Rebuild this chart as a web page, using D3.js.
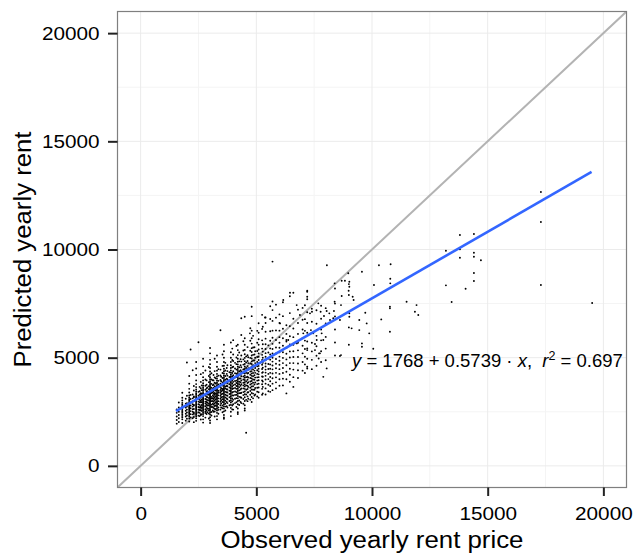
<!DOCTYPE html>
<html>
<head>
<meta charset="utf-8">
<script src="https://cdn.jsdelivr.net/npm/d3@7"></script>
<style>
  body { margin: 0; background: #fff; }
  svg { display: block; font-family: "Liberation Sans", Arial, Helvetica, sans-serif; }
  .ann { white-space: pre; }
</style>
</head>
<body>
<div id="chart"></div>
<script>

// axis setup (both axes share limits)
var axisDomain = [-1000, 21000];
var majorTicks = [0, 5000, 10000, 15000, 20000];
var minorTicks = [2500, 7500, 12500, 17500];

// fitted (blue) line
var fitIntercept = 1588;
var fitSlope = 0.6155;
var fitRange = [1530, 19490];

// printed equation
var eqIntercept = 1768;
var eqSlope = 0.5739;
var eqR2 = 0.697;

// dense cloud: observed rent values (columns) and the predicted values at each
var colObs = [1560, 1650, 1800, 1950, 2000, 2100, 2160, 2250, 2300, 2400, 2500, 2550, 2600, 2640, 2700,
  2800, 2850, 2880, 2950, 3000, 3060, 3120, 3150, 3200, 3240, 3300, 3360, 3450, 3480, 3540, 3600, 3660,
  3720, 3750, 3840, 3900, 3960, 4000, 4080, 4140, 4200, 4260, 4320, 4350, 4440, 4500, 4560, 4620, 4650,
  4740, 4800, 4860, 4920, 4950, 5040, 5100, 5250, 5280, 5400, 5520, 5600, 5700, 5850, 6000, 6150, 6300,
  6450, 6600, 6800, 7000, 7100, 7200, 7400, 7600, 7800, 8000, 8400, 9000];

var colPred = [
  [1950, 2120, 2280, 2450, 2610],
  [2030, 2200, 2350, 2500, 2700, 2930],
  [1980, 2150, 2240, 2310, 2390, 2460, 2520, 2580, 2650, 2700, 2760, 2830, 2910, 3020, 3150, 3380],
  [2090, 2280, 2410, 2550, 2690, 2870, 3100],
  [2180, 2330, 2470, 2600, 2740, 2900, 3240, 4780],
  [2050, 2190, 2280, 2350, 2420, 2480, 2540, 2600, 2660, 2710, 2770, 2820, 2880, 2940, 3010, 3080, 3160, 3250, 3390, 3560, 3800, 4150],
  [2240, 2390, 2530, 2660, 2790, 2930, 3090, 3280, 5380],
  [2200, 2380, 2500, 2620, 2740, 2850, 2980, 3120, 3300, 4420],
  [2020, 2260, 2410, 2470, 2630, 2790, 2820, 2990, 3170, 3210, 3480, 3690],
  [2080, 2200, 2290, 2360, 2430, 2490, 2550, 2600, 2650, 2700, 2750, 2800, 2850, 2900, 2950, 3000, 3050, 3100, 3160, 3220, 3290, 3360, 3440, 3530, 3640, 3780, 3950, 4200, 4500, 4800],
  [2320, 2470, 2600, 2720, 2850, 2970, 3100, 3240, 3420, 5710],
  [2300, 2450, 2580, 2700, 2820, 2940, 3050, 3170, 3300, 3450, 3650],
  [2140, 2350, 2390, 2570, 2690, 2760, 2940, 3010, 3150, 3270, 3360, 3590, 3880, 4240],
  [2380, 2540, 2680, 2810, 2940, 3060, 3190, 3330, 3500, 3720],
  [2000, 2150, 2300, 2400, 2480, 2550, 2610, 2670, 2720, 2780, 2830, 2880, 2930, 2980, 3030, 3080, 3130, 3180, 3230, 3290, 3350, 3410, 3480, 3550, 3630, 3720, 3820, 3950, 4100, 4300, 4600, 4950],
  [2230, 2440, 2510, 2620, 2760, 2890, 2970, 3090, 3240, 3310, 3520, 3700, 3990, 4410],
  [2400, 2560, 2700, 2830, 2950, 3070, 3190, 3310, 3440, 3580, 3750, 3950],
  [2480, 2640, 2790, 2920, 3040, 3170, 3300, 3450, 3620],
  [2190, 2420, 2560, 2640, 2790, 2870, 3030, 3140, 3290, 3390, 3540, 3680, 3870, 4150, 4570],
  [1980, 2100, 2250, 2370, 2460, 2540, 2610, 2680, 2740, 2800, 2860, 2910, 2960, 3010, 3060, 3110, 3160, 3210, 3260, 3310, 3360, 3410, 3460, 3510, 3570, 3630, 3690, 3760, 3830, 3910, 4000, 4100, 4220, 4360, 4520, 4700, 4900, 5200, 5450],
  [2330, 2490, 2720, 2830, 2990, 3120, 3190, 3370, 3490, 3610, 3790, 3990, 4280],
  [2560, 2720, 2870, 3000, 3130, 3260, 3400, 3550, 3730, 3960],
  [2500, 2680, 2830, 2960, 3090, 3210, 3330, 3460, 3600, 3760, 3950, 4200],
  [2280, 2510, 2640, 2770, 2880, 3020, 3150, 3290, 3370, 3520, 3680, 3840, 4090, 4380, 4950],
  [2620, 2790, 2940, 3080, 3210, 3340, 3480, 3630, 3810, 4050],
  [2150, 2300, 2450, 2560, 2650, 2730, 2800, 2870, 2930, 2990, 3050, 3110, 3170, 3230, 3290, 3350, 3410, 3470, 3530, 3590, 3650, 3720, 3790, 3860, 3940, 4030, 4130, 4250, 4400, 4580, 4800, 5100],
  [2410, 2590, 2700, 2860, 2990, 3120, 3260, 3390, 3470, 3630, 3760, 3930, 4170, 4470],
  [2600, 2800, 2960, 3100, 3240, 3380, 3510, 3650, 3800, 3970, 4180, 4450, 6270],
  [2700, 2880, 3030, 3170, 3310, 3450, 3590, 3740, 3910, 4120],
  [2480, 2660, 2790, 2950, 3080, 3190, 3330, 3480, 3550, 3710, 3860, 4060, 4290, 4620, 5150],
  [2180, 2240, 2350, 2520, 2650, 2750, 2840, 2920, 3000, 3070, 3140, 3210, 3280, 3340, 3400, 3460, 3520, 3580, 3640, 3700, 3760, 3820, 3880, 3950, 4020, 4100, 4180, 4270, 4370, 4490, 4630, 4800, 5000, 5300, 5600],
  [2560, 2740, 2870, 3010, 3160, 3290, 3420, 3570, 3660, 3820, 3980, 4150, 4410, 4760],
  [2760, 2950, 3110, 3260, 3400, 3540, 3690, 3850, 4030, 4250, 4520],
  [2700, 2900, 3080, 3240, 3390, 3530, 3680, 3830, 3990, 4170, 4380, 4650],
  [2800, 3000, 3170, 3320, 3470, 3620, 3770, 3930, 4110, 4330],
  [2300, 2500, 2680, 2820, 2930, 3030, 3120, 3200, 3280, 3360, 3430, 3500, 3570, 3640, 3710, 3780, 3850, 3920, 3990, 4060, 4140, 4220, 4310, 4410, 4520, 4650, 4800, 5000, 5250, 5700],
  [2610, 2790, 2980, 3110, 3260, 3390, 3550, 3660, 3810, 3960, 4130, 4290, 4560, 4890, 5420],
  [2600, 2850, 3050, 3250, 3420, 3580, 3730, 3880, 4030, 4190, 4370, 4580, 4850, 5150, 5810],
  [2900, 3100, 3280, 3440, 3600, 3760, 3920, 4090, 4280, 4500, 4760],
  [2720, 2940, 3130, 3290, 3410, 3560, 3690, 3830, 3940, 4110, 4260, 4450, 4700, 5010, 5540],
  [2400, 2480, 2650, 2850, 3000, 3120, 3230, 3330, 3420, 3500, 3580, 3660, 3740, 3820, 3900, 3980, 4060, 4140, 4220, 4300, 4390, 4480, 4580, 4690, 4810, 4950, 5120, 5350, 5600],
  [2810, 3020, 3190, 3360, 3490, 3640, 3770, 3890, 4040, 4190, 4370, 4560, 4830, 5240],
  [2950, 3170, 3360, 3530, 3700, 3870, 4040, 4220, 4420, 4650, 4930],
  [2900, 3150, 3380, 3580, 3770, 3950, 4140, 4340, 4560, 4820, 5100, 6050, 6820],
  [2870, 3090, 3270, 3410, 3580, 3720, 3840, 3990, 4130, 4290, 4460, 4680, 4920, 5330, 5760],
  [2560, 2650, 2800, 3000, 3170, 3310, 3440, 3560, 3670, 3770, 3870, 3970, 4070, 4170, 4270, 4370, 4480, 4590, 4710, 4840, 4990, 5160, 5360, 5600, 5900, 6890],
  [1530, 3050, 3300, 3520, 3720, 3910, 4100, 4300, 4520, 4780, 5060],
  [2990, 3210, 3390, 3550, 3700, 3830, 3980, 4120, 4270, 4430, 4610, 4850, 5110, 5490],
  [3100, 3400, 3650, 3870, 4080, 4290, 4510, 4750, 5020],
  [3060, 3290, 3460, 3610, 3760, 3900, 4060, 4210, 4360, 4540, 4730, 4990, 5320, 5780, 6360],
  [2950, 3180, 3370, 3530, 3670, 3800, 3920, 4040, 4160, 4270, 4380, 4490, 4600, 4710, 4830, 4960, 5100, 5260, 5440, 5650, 5900, 6250, 6920, 7355],
  [3120, 3340, 3520, 3680, 3840, 3990, 4140, 4290, 4460, 4650, 4870, 5130, 5470, 6010],
  [3250, 3520, 3760, 3980, 4190, 4400, 4620, 4870, 5150, 5480],
  [3300, 3600, 3850, 4080, 4300, 4520, 4750, 5000, 5300],
  [3210, 3430, 3610, 3780, 3940, 4090, 4250, 4420, 4600, 4800, 5030, 5310, 5690, 6240],
  [3150, 3400, 3620, 3800, 3960, 4100, 4230, 4360, 4490, 4620, 4750, 4890, 5040, 5200, 5380, 5600, 5850, 6150, 6590],
  [3290, 3560, 3770, 3950, 4130, 4300, 4480, 4670, 4890, 5130, 5420, 5800, 6330, 6980],
  [3350, 3650, 3900, 4120, 4330, 4540, 4760, 5000, 5280, 5620, 6430],
  [3300, 3580, 3800, 3990, 4160, 4310, 4450, 4590, 4730, 4880, 5040, 5210, 5400, 5620, 5880, 6200, 6600, 6860],
  [3450, 3750, 4010, 4250, 4480, 4710, 4960, 5240, 5570],
  [3420, 3690, 3910, 4110, 4300, 4490, 4690, 4910, 5150, 5430, 5780, 6220, 6790, 7380],
  [3500, 3800, 4050, 4270, 4460, 4640, 4820, 5000, 5190, 5400, 5640, 5920, 6250, 6700, 7200, 7600, 9440],
  [3580, 3860, 4090, 4300, 4510, 4720, 4940, 5190, 5470, 5820, 6260, 6850, 7450],
  [3700, 4000, 4250, 4470, 4670, 4860, 5050, 5250, 5460, 5690, 5950, 6250, 6600, 7000],
  [3720, 4030, 4290, 4520, 4750, 4990, 5250, 5550, 5900, 6340, 6920, 7560],
  [3350, 4000, 4350, 4650, 4920, 5180, 5450, 5750, 5820, 6100, 6500],
  [3890, 4210, 4490, 4750, 5010, 5290, 5610, 5990, 6460, 7060, 7840],
  [3650, 4100, 4450, 4750, 5030, 5300, 5600, 5950, 6350, 6800, 8000],
  [4060, 4420, 4730, 5030, 5340, 5690, 6100, 6600, 7220],
  [4400, 4800, 5200, 5550, 5900, 6300, 6750, 7300],
  [4290, 4690, 5040, 5400, 5790, 6240, 6780, 7420],
  [4500, 4580, 4950, 5350, 5430, 5750, 6150, 6600, 7100, 7700, 7815, 8050, 8095],
  [4470, 4900, 5290, 5690, 6140, 6660, 7260],
  [4630, 5090, 5530, 6010, 6570, 7190],
  [4800, 5300, 5800, 6300, 6800, 7400],
  [4880, 5420, 5960, 6580, 7290],
  [5100, 5700, 6300, 6900, 7500, 8200],
  [5600, 6400, 7100, 7900, 8400]
];

// scattered points away from the cloud
var sparseObs = [8050, 10300, 10805, 8975, 9565, 8385, 8690, 8830, 9020, 9020, 8990, 10085, 10790, 10790,
  8690, 9165, 9205, 8385, 8660, 7405, 7780, 8040, 8155, 8355, 7925, 8185, 8325, 8615, 9020, 9020, 9710,
  9770, 9450, 9120, 9450, 9880, 10775, 10775, 10400, 9565, 9565, 8660, 10055, 7710, 7535, 7360, 7460,
  7825, 7895, 11495, 11855, 11925, 10775, 8040, 8615, 7695, 6455, 5375, 6165, 6745, 6885, 7320, 7680,
  6025, 6380, 6745, 4725, 7610, 7535, 7750, 7895, 7030, 13800, 14405, 13195, 13800, 13800, 14405, 14405,
  14707, 14405, 14405, 13195, 14046, 13442, 12000, 17300, 17300, 17300, 19516];
var sparsePred = [9270, 9270, 9315, 8900, 8975, 8435, 8555, 8555, 8510, 8280, 8095, 8360, 8650, 8435,
  7850, 7815, 7665, 7585, 7430, 7125, 7125, 7155, 7050, 7155, 6925, 6740, 6820, 6740, 7050, 6890, 7075,
  6585, 6740, 6355, 6275, 6125, 7355, 6200, 6770, 5660, 5505, 5120, 5410, 5200, 5630, 6275, 6125,
  6125, 5815, 7585, 7125, 7430, 7280, 4505, 5075, 4965, 8000, 6860, 7665, 7430, 6970, 7050, 7510,
  6585, 5815, 5660, 6125, 5815, 5350, 5200, 4115, 6125, 10670, 10717, 9945, 10009, 9621, 9852, 9667,
  9500, 8913, 8543, 8344, 8187, 7572, 6970, 12660, 11272, 8358, 7525];

var xTitle = "Observed yearly rent price";
var yTitle = "Predicted yearly rent";

// ---------------------------------------------------------------

var width = 637, height = 557;
var panel = {left: 117.5, right: 626.5, top: 11.5, bottom: 487.5};
var stretch = 1.12;   // text in the original is a little wider than it is tall

var svg = d3.select("#chart").append("svg")
  .attr("width", width)
  .attr("height", height);

var x = d3.scaleLinear().domain(axisDomain).range([panel.left, panel.right]);
var y = d3.scaleLinear().domain(axisDomain).range([panel.bottom, panel.top]);

svg.append("rect")
  .attr("x", panel.left).attr("y", panel.top)
  .attr("width", panel.right - panel.left).attr("height", panel.bottom - panel.top)
  .attr("fill", "#fff");

// grid
var grid = svg.append("g");
grid.selectAll(".vminor").data(minorTicks).enter().append("line")
  .attr("x1", d => x(d)).attr("x2", d => x(d))
  .attr("y1", panel.top).attr("y2", panel.bottom)
  .attr("stroke", "#f4f4f4").attr("stroke-width", 1);
grid.selectAll(".hminor").data(minorTicks).enter().append("line")
  .attr("y1", d => y(d)).attr("y2", d => y(d))
  .attr("x1", panel.left).attr("x2", panel.right)
  .attr("stroke", "#f4f4f4").attr("stroke-width", 1);
grid.selectAll(".vmajor").data(majorTicks).enter().append("line")
  .attr("x1", d => x(d)).attr("x2", d => x(d))
  .attr("y1", panel.top).attr("y2", panel.bottom)
  .attr("stroke", "#ebebeb").attr("stroke-width", 1);
grid.selectAll(".hmajor").data(majorTicks).enter().append("line")
  .attr("y1", d => y(d)).attr("y2", d => y(d))
  .attr("x1", panel.left).attr("x2", panel.right)
  .attr("stroke", "#ebebeb").attr("stroke-width", 1);

svg.append("clipPath").attr("id", "clip")
  .append("rect")
  .attr("x", panel.left).attr("y", panel.top)
  .attr("width", panel.right - panel.left).attr("height", panel.bottom - panel.top);

var plot = svg.append("g").attr("clip-path", "url(#clip)");

// identity line
plot.append("line")
  .attr("x1", x(axisDomain[0])).attr("y1", y(axisDomain[0]))
  .attr("x2", x(axisDomain[1])).attr("y2", y(axisDomain[1]))
  .attr("stroke", "#b3b3b3").attr("stroke-width", 2);

// points
var points = [];
colObs.forEach(function(o, i) {
  colPred[i].forEach(function(p) { points.push({obs: o, pred: p}); });
});
sparseObs.forEach(function(o, i) { points.push({obs: o, pred: sparsePred[i]}); });

plot.selectAll(".pt").data(points).enter().append("circle")
  .attr("cx", d => x(d.obs))
  .attr("cy", d => y(d.pred))
  .attr("r", 0.95)
  .attr("fill", "#000");

// fitted line
var line = d3.line().x(d => x(d)).y(d => y(fitIntercept + fitSlope * d));
plot.append("path")
  .attr("d", line(fitRange))
  .attr("fill", "none")
  .attr("stroke", "#3366ff")
  .attr("stroke-width", 2.6);

// equation text
var ann = svg.append("g");
var t = ann.append("text").attr("class", "ann").attr("font-size", 18.5).attr("fill", "#000");
t.append("tspan").attr("font-style", "italic").text("y");
t.append("tspan").text(" = " + eqIntercept + " + " + eqSlope + " \u00b7 ");
t.append("tspan").attr("font-style", "italic").text("x");
t.append("tspan").text(",  ");
t.append("tspan").attr("font-style", "italic").text("r");
t.append("tspan").attr("dy", -7).attr("font-size", 12.5).text("2");
t.append("tspan").attr("dy", 7).text(" = " + eqR2);
var annW = t.node().getBBox().width;
ann.attr("transform", "translate(352,366.5) scale(" + (273 / annW) + ",1)");

// panel border
svg.append("rect")
  .attr("x", panel.left).attr("y", panel.top)
  .attr("width", panel.right - panel.left).attr("height", panel.bottom - panel.top)
  .attr("fill", "none").attr("stroke", "#7f7f7f").attr("stroke-width", 1.2);

// axes
var xAxis = d3.axisBottom(x).tickValues(majorTicks).tickSize(8.5).tickSizeOuter(0).tickPadding(10.5)
  .tickFormat(d3.format("d"));
var gx = svg.append("g").attr("transform", "translate(0," + panel.bottom + ")").call(xAxis);

var yAxis = d3.axisLeft(y).tickValues(majorTicks).tickSize(9.5).tickSizeOuter(0).tickPadding(8.5)
  .tickFormat(d3.format("d"));
var gy = svg.append("g").attr("transform", "translate(" + panel.left + ",0)").call(yAxis);

[gx, gy].forEach(function(g) {
  g.select(".domain").remove();
  g.selectAll(".tick line").attr("stroke", "#222").attr("stroke-width", 2);
  g.selectAll(".tick text")
    .attr("fill", "#000")
    .style("font-size", "18.5px")
    .style("font-family", "'Liberation Sans', Arial, sans-serif")
    .attr("transform", "scale(" + stretch + ",1)");
});
gy.selectAll(".tick text").attr("x", -18 / stretch);

// axis titles
svg.append("text")
  .attr("x", (panel.left + panel.right) / 2)
  .attr("y", 547.5)
  .attr("text-anchor", "middle")
  .attr("font-size", 23)
  .attr("textLength", 303)
  .attr("lengthAdjust", "spacingAndGlyphs")
  .text(xTitle);

svg.append("text")
  .attr("transform", "translate(31," + ((panel.top + panel.bottom) / 2) + ") rotate(-90)")
  .attr("text-anchor", "middle")
  .attr("font-size", 23)
  .attr("textLength", 236)
  .attr("lengthAdjust", "spacingAndGlyphs")
  .text(yTitle);

</script>
</body>
</html>
